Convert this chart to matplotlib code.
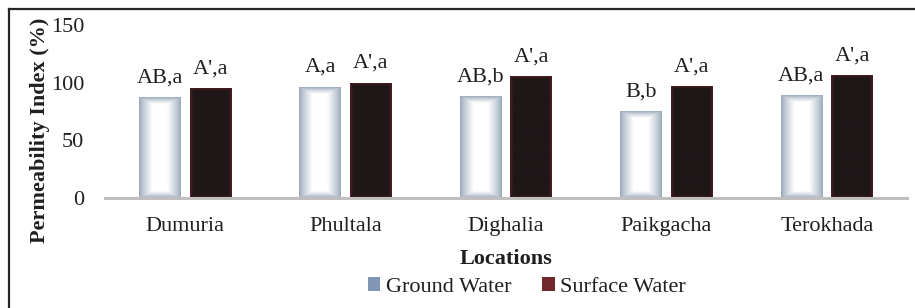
import matplotlib
matplotlib.use('Agg')
import matplotlib.pyplot as plt
from matplotlib.patches import Patch
from matplotlib.lines import Line2D
import numpy as np

# data
locations = ['Dumuria', 'Phultala', 'Dighalia', 'Paikgacha', 'Terokhada']
ground_water = [87, 96, 88, 75, 89]
surface_water = [95, 99.5, 105, 96.5, 106]
ground_labels = ['AB,a', 'A,a', 'AB,b', 'B,b', 'AB,a']
surface_labels = ["A',a", "A',a", "A',a", "A',a", "A',a"]

plt.rcParams['font.family'] = ['Liberation Serif', 'DejaVu Serif']
text_color = '#1f1f1f'
fs = 16

fig = plt.figure(figsize=(9.15, 3.08), dpi=100)
ax = fig.add_axes([105 / 915, 1 - 198 / 308, 802 / 915, 173 / 308])

x = np.arange(len(locations))
width = 0.26
offset = 0.158

gw_bars = ax.bar(x - offset, ground_water, width, color='none', zorder=2)
sw_bars = ax.bar(x + offset, surface_water, width, color='none', zorder=2)

ax.set_xlim(-0.5, len(locations) - 0.5)
ax.set_ylim(0, 150)


def gradient_image(w_px, h_px, edge, center, band_x, band_y, power=1.0):
    # rectangular gradient from the edges of a bar towards its middle
    xs = np.arange(w_px) + 0.5
    ys = np.arange(h_px) + 0.5
    dx = np.minimum(xs, w_px - xs) / band_x
    dy = np.minimum(ys, h_px - ys) / band_y
    t = np.clip(np.minimum(dx[None, :], dy[:, None]), 0, 1) ** power
    edge = np.array(edge) / 255
    center = np.array(center) / 255
    return edge + (center - edge) * t[..., None]


def fill_bars(bars, edge, center, band_x, band_y, power):
    for rect in bars:
        bb = rect.get_window_extent()
        w_px = max(int(round(bb.width)), 2)
        h_px = max(int(round(bb.height)), 2)
        img = gradient_image(w_px, h_px, edge, center, band_x, band_y, power)
        x0 = rect.get_x()
        ax.imshow(img, extent=[x0, x0 + rect.get_width(), 0, rect.get_height()],
                  aspect='auto', zorder=2, interpolation='bilinear')


fill_bars(gw_bars, (150, 166, 184), (255, 255, 255), 14, 7, 0.8)
fill_bars(sw_bars, (85, 32, 38), (30, 22, 23), 4, 3, 0.7)

ax.set_xlim(-0.5, len(locations) - 0.5)
ax.set_ylim(0, 150)

# letters above the bars
for i in range(len(locations)):
    ax.annotate(ground_labels[i], (x[i] - offset, ground_water[i]), xytext=(0, 11),
                textcoords='offset points', ha='center', va='baseline',
                fontsize=fs, color=text_color)
    ax.annotate(surface_labels[i], (x[i] + offset, surface_water[i]), xytext=(0, 11),
                textcoords='offset points', ha='center', va='baseline',
                fontsize=fs, color=text_color)

# gray baseline, no other spines
for side in ['top', 'right', 'left', 'bottom']:
    ax.spines[side].set_visible(False)
ax.axhline(0, color='#bfbfbf', linewidth=2.2, zorder=3, clip_on=False)

ax.set_yticks([0, 50, 100, 150])
ax.set_xticks(x)
ax.set_xticklabels(locations)
ax.tick_params(axis='y', length=0, pad=15, labelsize=fs, labelcolor=text_color)
ax.tick_params(axis='x', length=0, pad=14, labelsize=fs, labelcolor=text_color)

ax.set_xlabel('Locations', fontsize=fs, fontweight='bold', color=text_color)
ax.xaxis.label.set_va('center')
ax.xaxis.set_label_coords(0.5, -0.35)
ax.set_ylabel('Permeability Index (%)', fontsize=fs, fontweight='bold', color=text_color)
ax.yaxis.set_label_coords(-0.068, 0.39)

# legend under the axis title
handles = [Patch(facecolor='#8098b6', label='Ground Water'),
           Patch(facecolor='#702a2b', label='Surface Water')]
fig.legend(handles=handles, loc='center', bbox_to_anchor=(527 / 915, 1 - 287 / 308),
           ncol=2, frameon=False, fontsize=fs, handlelength=0.55, handleheight=0.55,
           handletextpad=0.25, columnspacing=1.4, labelcolor=text_color,
           borderpad=0, borderaxespad=0)

# chart frame (only top and left edges are inside the crop)
fig.add_artist(Line2D([9 / 915, 9 / 915], [0, 1 - 9 / 308], color='#262626', linewidth=1.6))
fig.add_artist(Line2D([9 / 915, 1], [1 - 9 / 308, 1 - 9 / 308], color='#262626', linewidth=1.6))

fig.savefig('out.png', dpi=100)
